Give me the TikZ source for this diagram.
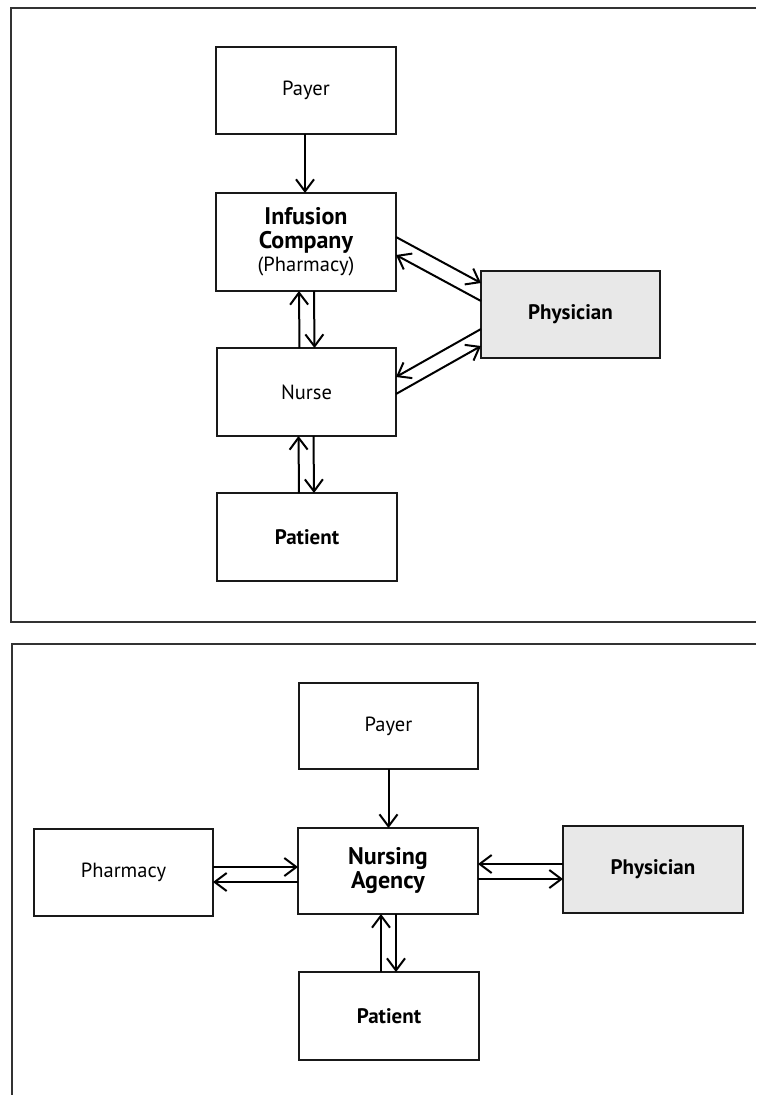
\documentclass[tikz,border=0pt]{standalone}
\usepackage{fontspec}
\setmainfont{PT Sans}
\usetikzlibrary{arrows.meta}
\newcommand{\bigb}[1]{\textbf{\fontsize{24}{25}\selectfont #1}}
\newcommand{\midb}[1]{\textbf{\fontsize{21}{24}\selectfont #1}}
\begin{document}
\begin{tikzpicture}[x=1pt,y=-1pt,
  box/.style={draw=black!90,line width=1.4pt,inner sep=0pt,outer sep=0pt,align=center,font=\fontsize{20.5}{25}\selectfont},
  shaded/.style={box,fill=black!9},
  arr/.style={line width=2pt,-{Straight Barb[length=12pt,width=18pt,line width=2pt]}},
  frame/.style={line width=1.1pt,draw=black!80}]
\useasboundingbox (0,0) rectangle (756,1095);
% frames
\draw[frame] (756,8) -- (11,8) -- (11,622) -- (756,622);
\draw[frame] (756,644) -- (12,644) -- (12,1095);
% top diagram
\node[box,minimum width=180pt,minimum height=87pt] (payer1) at (306,90.5) {Payer};
\node[box,minimum width=180pt,minimum height=98pt] (inf) at (306,242) {\bigb{Infusion}\\[-1pt]\bigb{Company}\\[-2pt](Pharmacy)};
\node[shaded,minimum width=179pt,minimum height=87pt] (phys1) at (570.5,314.5) {\midb{Physician}};
\node[box,minimum width=179pt,minimum height=88pt] (nurse) at (306.5,392) {Nurse};
\node[box,minimum width=180pt,minimum height=88pt] (pat1) at (307,537) {\midb{Patient}};
\draw[arr] ([xshift=-1pt]payer1.south) -- ([xshift=-1pt]inf.north);
\draw[arr] ([xshift=-7pt]nurse.north) -- ([xshift=-7pt]inf.south);
\draw[arr] ([xshift=8pt]inf.south) -- ([xshift=8pt]nurse.north);
\draw[arr] ([yshift=5pt]inf.east) -- ([yshift=31.5pt]phys1.west);
\draw[arr] ([yshift=13.5pt]phys1.west) -- ([yshift=-13pt]inf.east);
\draw[arr] ([yshift=-14.5pt]phys1.west) -- ([yshift=15pt]nurse.east);
\draw[arr] ([yshift=-2pt]nurse.east) -- ([yshift=-31.5pt]phys1.west);
\draw[arr] ([xshift=-8pt]pat1.north) -- ([xshift=-8pt]nurse.south);
\draw[arr] ([xshift=7pt]nurse.south) -- ([xshift=7pt]pat1.north);
% bottom diagram
\node[box,minimum width=179pt,minimum height=86pt] (payer2) at (388.5,726) {Payer};
\node[box,minimum width=180pt,minimum height=86pt] (nurs) at (388,871) {\bigb{Nursing}\\[-1pt]\bigb{Agency}};
\node[box,minimum width=179pt,minimum height=87pt] (pharm) at (123.5,872.5) {Pharmacy};
\node[shaded,minimum width=180pt,minimum height=87pt] (phys2) at (653,869.5) {\midb{Physician}};
\node[box,minimum width=180pt,minimum height=88pt] (pat2) at (389,1016) {\midb{Patient}};
\draw[arr] (payer2.south) -- (payer2.south |- nurs.north);
\draw[arr] ([yshift=5.5pt]pharm.east) coordinate (a1) -- (a1 -| nurs.west);
\draw[arr] ([yshift=-11pt]nurs.west) coordinate (a2) -- (a2 -| pharm.east);
\draw[arr] ([yshift=5.5pt]phys2.west) coordinate (a3) -- (a3 -| nurs.east);
\draw[arr] ([yshift=-8pt]nurs.east) coordinate (a4) -- (a4 -| phys2.west);
\draw[arr] ([xshift=-8pt]pat2.north) coordinate (a5) -- (a5 |- nurs.south);
\draw[arr] ([xshift=8pt]nurs.south) coordinate (a6) -- (a6 |- pat2.north);
\end{tikzpicture}
\end{document}
